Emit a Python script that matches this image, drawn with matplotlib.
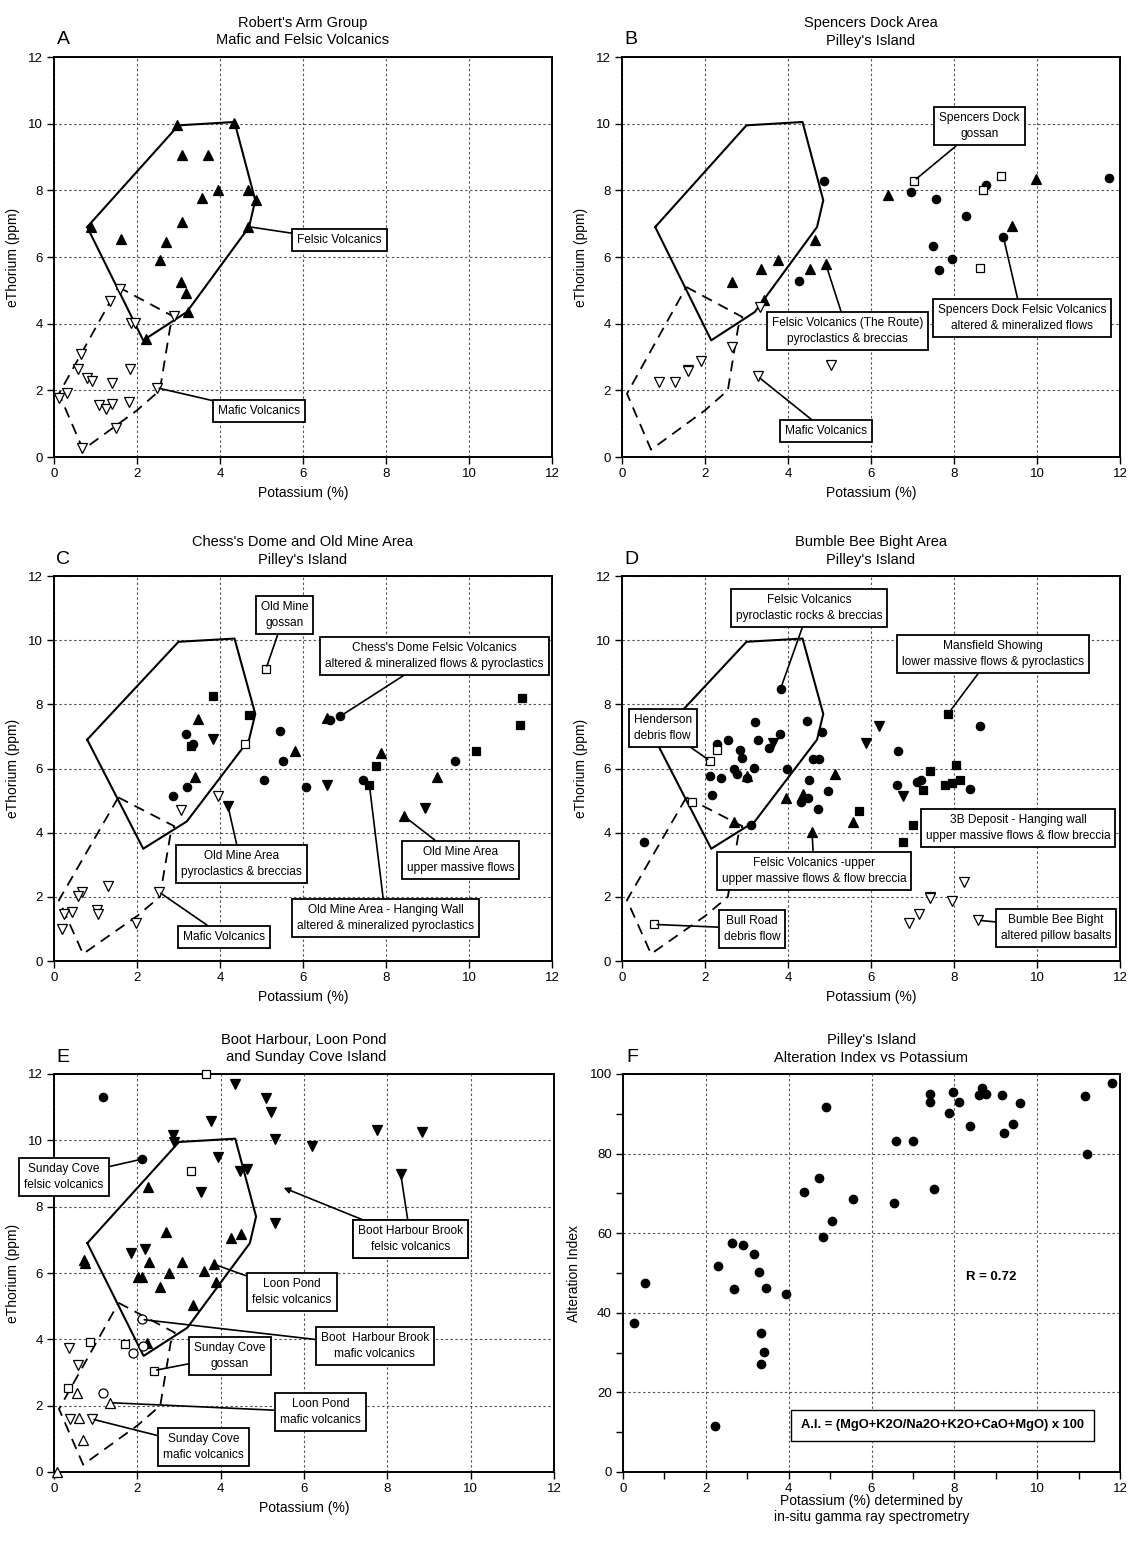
import matplotlib
matplotlib.use("Agg")
import matplotlib.pyplot as plt
from matplotlib.ticker import MultipleLocator

plt.rcParams["font.family"] = ["Liberation Sans", "DejaVu Sans"]

W, H = 1128, 1549

# envelope fields drawn on panels A-E (K %, eTh ppm)
FELSIC_FIELD = [(0.8, 6.9), (3.0, 9.95), (4.35, 10.05), (4.85, 7.7), (4.7, 6.9),
                (3.2, 4.35), (2.15, 3.5), (0.8, 6.9)]
MAFIC_FIELD = [(1.55, 5.1), (2.9, 4.2), (2.8, 3.9), (2.55, 2.0), (2.0, 1.4),
               (0.7, 0.22), (0.12, 1.9), (1.55, 5.1)]

# ---- panel A: Robert's Arm Group
A_FELSIC = [(2.97, 9.95), (4.34, 10.03), (3.08, 9.05), (3.72, 9.05), (3.96, 8.0),
            (4.67, 8.0), (4.86, 7.71), (3.57, 7.78), (0.88, 6.91), (1.61, 6.53),
            (2.69, 6.45), (3.09, 7.05), (2.55, 5.91), (3.05, 5.25), (3.17, 4.91),
            (3.24, 4.36), (2.21, 3.53), (4.68, 6.91)]
A_MAFIC = [(1.59, 5.05), (1.35, 4.68), (1.85, 4.03), (1.95, 4.03), (2.89, 4.23),
           (0.64, 3.08), (0.59, 2.63), (0.80, 2.36), (0.92, 2.28), (1.82, 2.63),
           (1.39, 2.21), (0.32, 1.93), (0.12, 1.76), (1.08, 1.56), (1.26, 1.43),
           (1.39, 1.60), (1.81, 1.65), (2.47, 2.08), (1.49, 0.86), (0.67, 0.28)]

# ---- panel B: Spencers Dock
B_CIRCLES = [(4.86, 8.29), (6.96, 7.94), (7.57, 7.74), (8.29, 7.22), (8.76, 8.15),
             (11.74, 8.36), (7.49, 6.34), (7.94, 5.94), (7.65, 5.62), (9.19, 6.6),
             (4.27, 5.27)]
B_TRIANGLES = [(6.41, 7.87), (9.98, 8.34), (9.39, 6.92), (4.65, 6.52), (3.75, 5.92),
               (4.53, 5.65), (3.35, 5.65), (2.64, 5.25), (3.41, 4.70), (4.91, 5.79)]
B_GOSSAN = [(7.04, 8.29), (9.13, 8.42), (8.69, 8.02), (8.63, 5.67)]
B_MAFIC = [(3.33, 4.5), (2.65, 3.29), (1.90, 2.89), (1.59, 2.62), (1.59, 2.58),
           (0.88, 2.24), (1.27, 2.24), (3.27, 2.42), (5.04, 2.77)]

# ---- panel C: Chess's Dome and Old Mine
C_GOSSAN = [(5.11, 9.11), (4.61, 6.77)]
C_SQUARES = [(3.82, 8.25), (4.71, 7.68), (3.29, 6.69), (11.27, 8.2), (11.23, 7.36),
             (10.16, 6.54), (7.75, 6.08), (7.6, 5.48)]
C_CIRCLES = [(3.17, 7.08), (3.35, 6.77), (3.21, 5.42), (2.87, 5.15), (5.45, 7.16),
             (5.52, 6.22), (5.05, 5.63), (6.08, 5.42), (6.64, 7.5), (6.9, 7.63),
             (9.66, 6.22), (7.44, 5.63)]
C_TRIANGLES = [(3.47, 7.54), (3.39, 5.73), (5.81, 6.53), (6.58, 7.56), (7.87, 6.48),
               (9.22, 5.73), (8.43, 4.52)]
C_DOWN = [(3.84, 6.92), (4.19, 4.84), (6.58, 5.49), (8.95, 4.76)]
C_MAFIC = [(3.95, 5.15), (3.05, 4.71), (2.52, 2.16), (1.98, 1.19), (1.31, 2.33),
           (0.67, 2.16), (0.57, 2.02), (0.43, 1.53), (0.23, 1.48), (1.03, 1.58),
           (1.07, 1.48), (0.19, 1.01)]

# ---- panel D: Bumble Bee Bight
D_CIRCLES = [(3.82, 8.48), (3.2, 7.45), (4.45, 7.47), (4.82, 7.14), (3.8, 7.07),
             (2.56, 6.9), (3.28, 6.9), (2.3, 6.77), (2.85, 6.58), (3.54, 6.64),
             (2.9, 6.32), (2.7, 5.99), (3.17, 6.03), (2.78, 5.83), (3.0, 5.7),
             (2.13, 5.78), (2.38, 5.7), (2.16, 5.16), (3.97, 5.99), (4.61, 6.3),
             (4.74, 6.3), (4.5, 5.63), (4.49, 5.07), (4.32, 4.95), (4.97, 5.3),
             (4.73, 4.74), (3.1, 4.24), (0.53, 3.72), (6.66, 6.56), (6.62, 5.49),
             (7.12, 5.57), (7.2, 5.63), (8.38, 5.36), (8.62, 7.33)]
D_TRIANGLES = [(3.01, 5.78), (5.14, 5.83), (4.37, 5.21), (3.94, 5.07), (2.69, 4.34),
               (5.56, 4.34), (4.58, 4.01)]
D_DOWN = [(6.2, 7.31), (5.88, 6.79), (6.77, 5.13), (3.65, 6.79)]
D_SQUARES = [(7.86, 7.71), (8.04, 6.11), (7.41, 5.91), (8.14, 5.63), (7.94, 5.54),
             (7.78, 5.49), (7.26, 5.33), (5.72, 4.68), (7.0, 4.24), (6.76, 3.72)]
D_OPEN_SQ = [(2.3, 6.58), (2.12, 6.24), (1.69, 4.97), (0.78, 1.14)]
D_PILLOW = [(8.24, 2.47), (7.41, 2.0), (7.42, 1.95), (7.96, 1.86), (7.16, 1.48),
            (6.92, 1.2), (8.58, 1.27)]

# ---- panel E: Boot Harbour, Loon Pond, Sunday Cove
E_CIRCLES = [(1.18, 11.3), (2.1, 9.43)]
E_OPEN_SQ = [(3.64, 12.0), (3.3, 9.09), (0.86, 3.93), (1.7, 3.87), (2.4, 3.06),
             (0.34, 2.53)]
E_DOWN = [(4.34, 11.7), (5.09, 11.27), (5.2, 10.84), (3.76, 10.57), (2.85, 10.15),
          (2.88, 9.96), (5.31, 10.05), (6.2, 9.82), (7.76, 10.31), (8.84, 10.26),
          (3.93, 9.51), (4.46, 9.09), (4.64, 9.13), (8.32, 9.0), (3.52, 8.43),
          (5.3, 7.5), (1.85, 6.61), (2.19, 6.72)]
E_TRIANGLES = [(2.26, 8.6), (2.68, 7.24), (4.26, 7.06), (4.49, 7.19), (0.73, 6.39),
               (0.74, 6.31), (2.27, 6.33), (3.06, 6.33), (3.85, 6.26), (3.6, 6.06),
               (2.77, 6.01), (2.02, 5.87), (2.1, 5.87), (2.54, 5.59), (3.89, 5.74),
               (3.34, 5.03), (2.22, 3.88)]
E_OPEN_CIRC = [(2.1, 4.6), (1.89, 3.59), (2.14, 3.8), (1.17, 2.39)]
E_OPEN_UP = [(0.54, 2.39), (1.34, 2.09), (0.6, 1.63), (0.7, 0.96), (0.08, 0.0)]
E_OPEN_DOWN = [(0.37, 3.74), (0.58, 3.24), (0.38, 1.6), (0.9, 1.6)]

# ---- panel F: alteration index vs K
F_K = [11.8, 11.16, 11.2, 4.9, 7.42, 7.42, 7.96, 8.12, 7.86, 8.66, 8.6, 8.77, 9.16,
       9.58, 8.38, 9.42, 9.21, 6.6, 7.0, 7.5, 4.36, 4.73, 5.56, 6.54, 5.04, 4.82,
       2.62, 2.9, 3.17, 2.3, 3.28, 2.69, 3.45, 3.94, 0.54, 0.26, 3.34, 3.41, 3.32,
       2.22]
F_AI = [97.8, 94.5, 80.0, 91.6, 95.0, 92.9, 95.6, 93.0, 90.1, 96.6, 94.7, 94.9, 94.7,
        92.8, 87.0, 87.4, 85.3, 83.2, 83.2, 71.0, 70.4, 73.8, 68.7, 67.6, 63.1, 59.1,
        57.6, 57.0, 54.7, 51.7, 50.3, 46.1, 46.3, 44.7, 47.4, 37.5, 35.0, 30.2, 27.1,
        11.5]

BOX = dict(boxstyle="square,pad=0.42", fc="white", ec="black", lw=1.3)
GRID = dict(color="#555555", linestyle=(0, (2.2, 2.2)), linewidth=0.8)


def make_axes(fig, left, top, right, bottom):
    return fig.add_axes([left / W, 1 - bottom / H, (right - left) / W, (bottom - top) / H])


def pts(ax, data, marker, filled=True, ms=6.5):
    xs = [p[0] for p in data]
    ys = [p[1] for p in data]
    ax.plot(xs, ys, linestyle="none", marker=marker, ms=ms,
            mfc="black" if filled else "white", mec="black",
            mew=0.9, clip_on=False, zorder=3)


def label(ax, text, box, point=None, arrow=False, fs=8.6):
    props = None
    if point is not None:
        props = dict(arrowstyle="-|>" if arrow else "-", color="black", lw=1.2,
                     shrinkA=0, shrinkB=2, mutation_scale=9)
    ax.annotate(text, xy=point if point is not None else box, xytext=box,
                ha="center", va="center", fontsize=fs, linespacing=1.45,
                bbox=BOX, arrowprops=props, zorder=5)


def base(ax, letter, title, xlabel="Potassium (%)", ylabel="eThorium (ppm)", fields=True):
    ax.set_xlim(0, 12)
    ax.set_ylim(0, 12)
    ax.xaxis.set_major_locator(MultipleLocator(2))
    ax.yaxis.set_major_locator(MultipleLocator(2))
    ax.grid(True, **GRID)
    ax.set_axisbelow(True)
    for s in ax.spines.values():
        s.set_linewidth(1.4)
    ax.tick_params(direction="out", length=5, width=1.0, labelsize=9.5, pad=3)
    ax.set_title(title, fontsize=10.5, linespacing=1.3, pad=9)
    ax.annotate(letter, xy=(0, 1), xycoords="axes fraction", xytext=(9, 17),
                textcoords="offset pixels", ha="center", va="center", fontsize=14)
    ax.set_xlabel(xlabel, fontsize=10, labelpad=4)
    ax.set_ylabel(ylabel, fontsize=10, labelpad=6)
    if fields:
        ax.plot([p[0] for p in FELSIC_FIELD], [p[1] for p in FELSIC_FIELD],
                color="black", lw=1.5, zorder=2)
        ax.plot([p[0] for p in MAFIC_FIELD], [p[1] for p in MAFIC_FIELD],
                color="black", lw=1.3, linestyle=(0, (6, 4)), zorder=2)


fig = plt.figure(figsize=(W / 100, H / 100), dpi=100)
fig.patch.set_facecolor("white")

# A
ax = make_axes(fig, 54, 57, 552, 457)
base(ax, "A", "Robert's Arm Group\nMafic and Felsic Volcanics")
pts(ax, A_FELSIC, "^")
pts(ax, A_MAFIC, "v", filled=False, ms=7)
label(ax, "Felsic Volcanics", (6.88, 6.5), (4.68, 6.91))
label(ax, "Mafic Volcanics", (4.94, 1.37), (2.47, 2.08))

# B
ax = make_axes(fig, 622, 57, 1120, 457)
base(ax, "B", "Spencers Dock Area\nPilley's Island")
pts(ax, B_CIRCLES, "o", ms=6)
pts(ax, B_TRIANGLES, "^")
pts(ax, B_GOSSAN, "s", filled=False, ms=6)
pts(ax, B_MAFIC, "v", filled=False, ms=7)
label(ax, "Spencers Dock\ngossan", (8.62, 9.92), (7.04, 8.29))
label(ax, "Felsic Volcanics (The Route)\npyroclastics & breccias", (5.43, 3.78), (4.91, 5.79))
label(ax, "Mafic Volcanics", (4.92, 0.77), (3.27, 2.42))
label(ax, "Spencers Dock Felsic Volcanics\naltered & mineralized flows", (9.64, 4.17), (9.19, 6.6))

# C
ax = make_axes(fig, 54, 576, 552, 961)
base(ax, "C", "Chess's Dome and Old Mine Area\nPilley's Island")
pts(ax, C_SQUARES, "s", ms=6)
pts(ax, C_GOSSAN, "s", filled=False, ms=6)
pts(ax, C_CIRCLES, "o", ms=6)
pts(ax, C_TRIANGLES, "^")
pts(ax, C_DOWN, "v")
pts(ax, C_MAFIC, "v", filled=False, ms=7)
label(ax, "Old Mine\ngossan", (5.55, 10.78), (5.11, 9.11))
label(ax, "Chess's Dome Felsic Volcanics\naltered & mineralized flows & pyroclastics",
      (9.17, 9.52), (6.9, 7.63))
label(ax, "Old Mine Area\npyroclastics & breccias", (4.51, 3.02), (4.19, 4.84))
label(ax, "Mafic Volcanics", (4.1, 0.75), (2.52, 2.16))
label(ax, "Old Mine Area\nupper massive flows", (9.79, 3.15), (8.43, 4.52))
label(ax, "Old Mine Area - Hanging Wall\naltered & mineralized pyroclastics",
      (7.99, 1.33), (7.6, 5.48))

# D
ax = make_axes(fig, 622, 576, 1120, 961)
base(ax, "D", "Bumble Bee Bight Area\nPilley's Island")
pts(ax, D_CIRCLES, "o", ms=6)
pts(ax, D_TRIANGLES, "^")
pts(ax, D_DOWN, "v")
pts(ax, D_SQUARES, "s", ms=6)
pts(ax, D_OPEN_SQ, "s", filled=False, ms=6)
pts(ax, D_PILLOW, "v", filled=False, ms=7)
label(ax, "Felsic Volcanics\npyroclastic rocks & breccias", (4.51, 11.0), (3.82, 8.48))
label(ax, "Mansfield Showing\nlower massive flows & pyroclastics", (8.93, 9.56), (7.86, 7.71))
label(ax, "Henderson\ndebris flow", (0.98, 7.27), (2.12, 6.24))
label(ax, "3B Deposit - Hanging wall\nupper massive flows & flow breccia", (9.54, 4.14))
label(ax, "Felsic Volcanics -upper\nupper massive flows & flow breccia", (4.63, 2.8), (4.58, 4.01))
label(ax, "Bull Road\ndebris flow", (3.13, 1.01), (0.78, 1.14))
label(ax, "Bumble Bee Bight\naltered pillow basalts", (10.45, 1.04), (8.58, 1.27))

# E
ax = make_axes(fig, 54, 1074, 554, 1472)
base(ax, "E", "Boot Harbour, Loon Pond\n and Sunday Cove Island")
pts(ax, E_CIRCLES, "o", ms=6)
pts(ax, E_OPEN_SQ, "s", filled=False, ms=6)
pts(ax, E_DOWN, "v")
pts(ax, E_TRIANGLES, "^")
pts(ax, E_OPEN_CIRC, "o", filled=False)
pts(ax, E_OPEN_UP, "^", filled=False, ms=7)
pts(ax, E_OPEN_DOWN, "v", filled=False, ms=7)
label(ax, "Sunday Cove\nfelsic volcanics", (0.24, 8.9), (2.1, 9.43))
label(ax, "Boot Harbour Brook\nfelsic volcanics", (8.56, 7.02), (8.32, 9.0))
label(ax, "Boot Harbour Brook\nfelsic volcanics", (8.56, 7.02), (5.45, 8.6), arrow=True)
label(ax, "Loon Pond\nfelsic volcanics", (5.71, 5.42), (3.85, 6.26))
label(ax, "Boot  Harbour Brook\nmafic volcanics", (7.7, 3.79), (2.1, 4.6))
label(ax, "Sunday Cove\ngossan", (4.22, 3.5), (2.4, 3.06))
label(ax, "Loon Pond\nmafic volcanics", (6.4, 1.8), (1.34, 2.09))
label(ax, "Sunday Cove\nmafic volcanics", (3.59, 0.75), (0.9, 1.6))

# F
ax = make_axes(fig, 623, 1074, 1120, 1472)
ax.set_xlim(0, 12)
ax.set_ylim(0, 100)
ax.xaxis.set_major_locator(MultipleLocator(2))
ax.xaxis.set_minor_locator(MultipleLocator(1))
ax.yaxis.set_major_locator(MultipleLocator(20))
ax.yaxis.set_minor_locator(MultipleLocator(10))
ax.grid(True, which="major", **GRID)
ax.set_axisbelow(True)
for s in ax.spines.values():
    s.set_linewidth(1.4)
ax.tick_params(which="both", direction="out", length=5, width=1.0, labelsize=9.5, pad=3)
ax.set_title("Pilley's Island\nAlteration Index vs Potassium", fontsize=10.5, linespacing=1.3, pad=9)
ax.annotate("F", xy=(0, 1), xycoords="axes fraction", xytext=(9, 17),
            textcoords="offset pixels", ha="center", va="center", fontsize=14)
ax.set_xlabel("Potassium (%) determined by\nin-situ gamma ray spectrometry", fontsize=10,
              labelpad=-1, linespacing=1.2)
ax.set_ylabel("Alteration Index", fontsize=10, labelpad=6)
ax.plot(F_K, F_AI, linestyle="none", marker="o", ms=6, mfc="black", mec="black",
        clip_on=False, zorder=3)
ax.text(8.89, 48.9, "R = 0.72", fontsize=9.5, fontweight="bold", ha="center", va="center")
ax.text(4.3, 11.7, "A.I. = (MgO+K2O/Na2O+K2O+CaO+MgO) x 100", fontsize=9.3,
        fontweight="bold", ha="left", va="center",
        bbox=dict(boxstyle="square,pad=0.75", fc="white", ec="black", lw=1.0))

fig.savefig("out.png", dpi=100, facecolor="white")
